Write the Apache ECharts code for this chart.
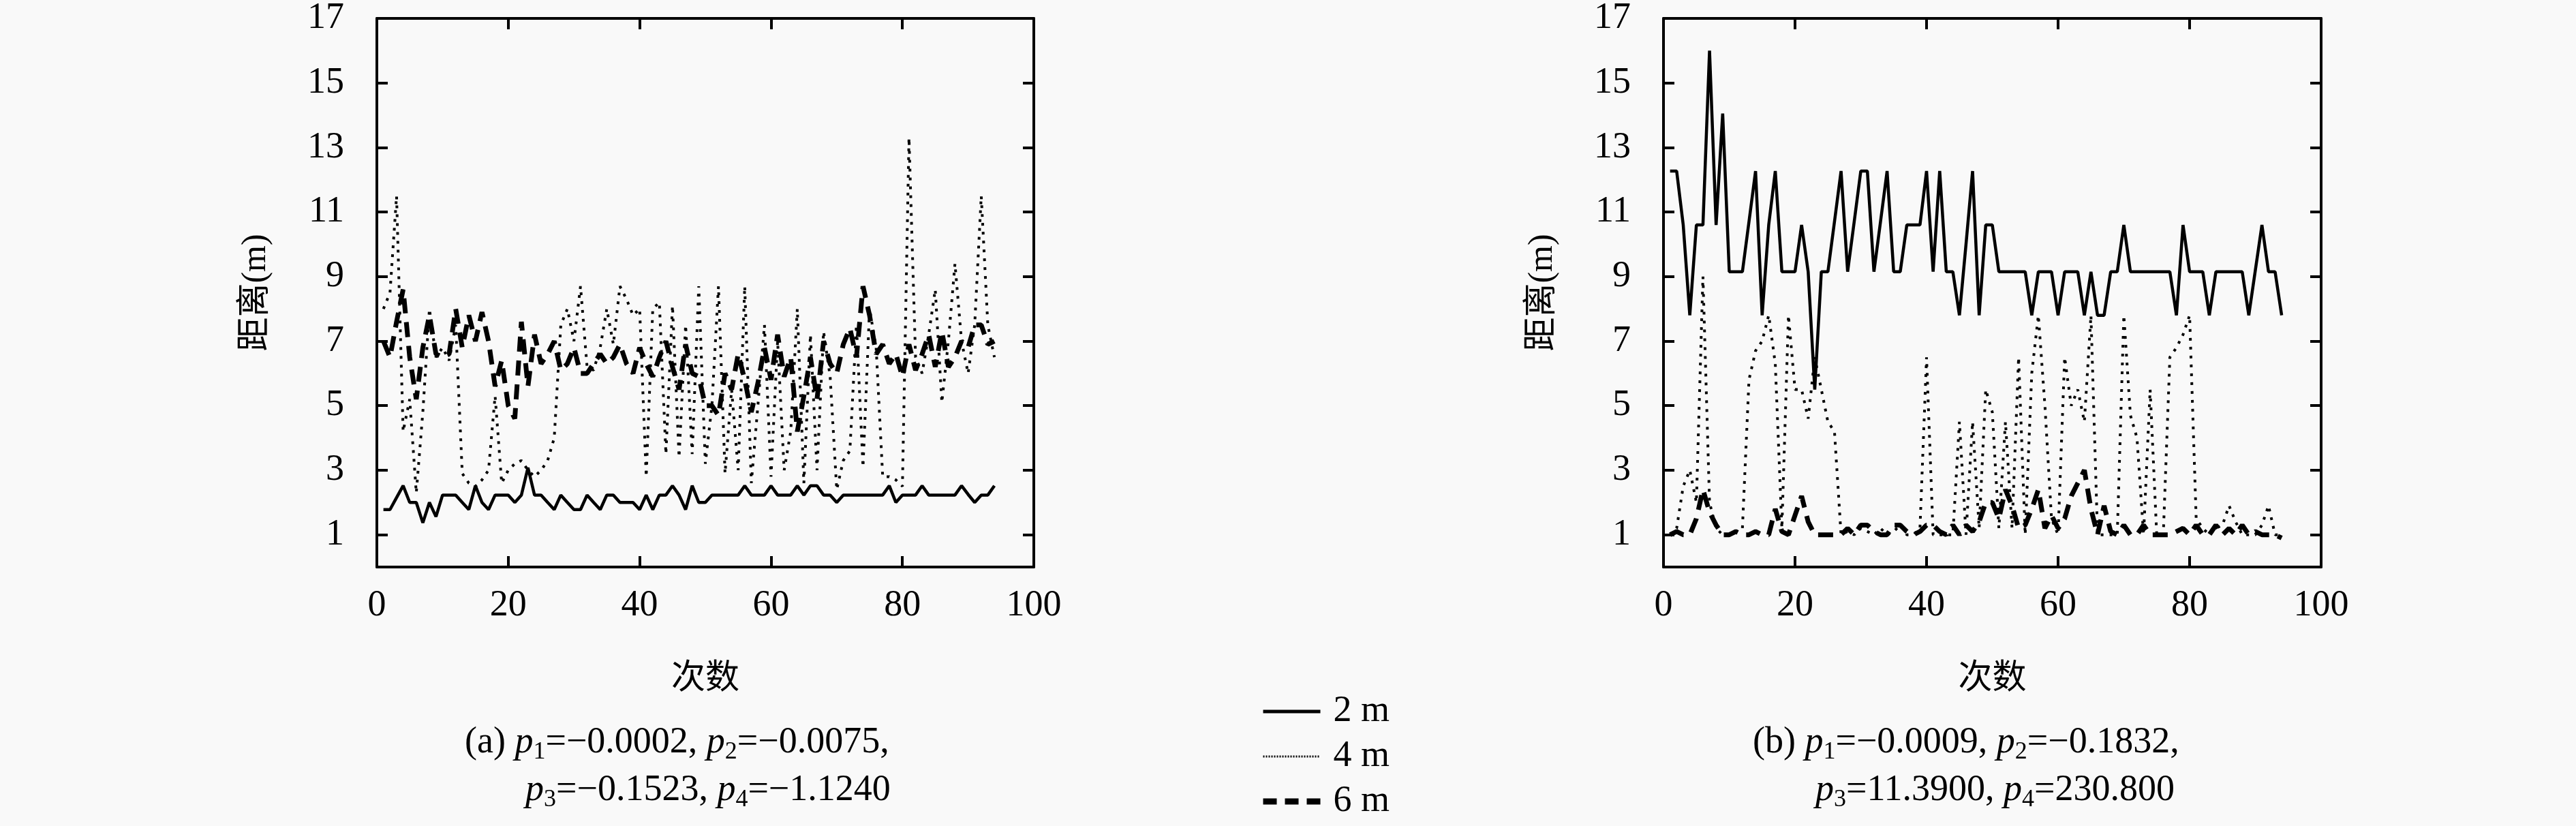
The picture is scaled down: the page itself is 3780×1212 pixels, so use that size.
<!DOCTYPE html>
<html>
<head>
<meta charset="utf-8">
<script src="https://cdn.jsdelivr.net/npm/echarts@6/dist/echarts.min.js"></script>
<style>
html,body{margin:0;padding:0;background:#f9f9f9;}
#c{width:3780px;height:1212px;}
</style>
</head>
<body>
<div id="c"></div>
<script>
// ---- data (run index 1..94) ----
const legendNames = ['2 m', '4 m', '6 m'];
const xTicks = [0, 20, 40, 60, 80, 100];
const yTicks = [1, 3, 5, 7, 9, 11, 13, 15, 17];

// panel (a)
const a2m = [1.78,1.78,2.15,2.52,2.0,2.0,1.37,2.0,1.56,2.23,2.23,2.23,2.0,1.78,2.52,2.0,1.78,2.23,2.23,2.23,
  2.0,2.23,3.08,2.23,2.23,2.0,1.78,2.23,2.0,1.78,1.78,2.23,2.0,1.78,2.23,2.23,2.0,2.0,2.0,1.78,
  2.23,1.78,2.23,2.23,2.52,2.23,1.78,2.52,2.0,2.0,2.23,2.23,2.23,2.23,2.23,2.52,2.23,2.23,2.23,2.52,
  2.23,2.23,2.23,2.52,2.23,2.52,2.52,2.23,2.23,2.0,2.23,2.23,2.23,2.23,2.23,2.23,2.23,2.52,2.0,2.23,
  2.23,2.23,2.52,2.23,2.23,2.23,2.23,2.23,2.52,2.25,2.0,2.23,2.23,2.52];
const a4m = [8.0,8.5,11.5,4.2,5.2,2.3,4.8,8.0,6.5,6.8,6.4,7.5,2.9,2.6,2.5,2.7,3.0,5.3,2.6,3.0,
  3.2,3.3,3.0,2.8,3.0,3.3,4.0,7.5,8.0,7.0,8.7,6.2,6.1,6.8,8.0,6.9,8.7,8.3,7.8,8.0,
  2.8,8.0,8.2,3.5,8.1,3.4,7.5,3.5,8.7,3.2,5.0,8.7,2.9,5.5,3.0,8.7,2.6,5.0,7.5,2.8,
  7.0,3.0,4.2,8.0,2.6,7.2,3.0,7.3,5.9,2.4,3.3,3.6,7.5,3.1,8.0,6.8,2.8,2.8,2.7,2.5,
  13.3,6.5,6.0,7.2,8.6,5.1,7.0,9.4,7.0,6.0,7.5,11.5,7.5,6.5];
const a6m = [7.0,6.5,7.6,8.6,6.5,5.2,6.8,7.8,6.6,6.5,6.6,8.0,6.8,7.8,7.0,7.9,7.0,5.6,6.4,5.0,
  4.6,7.6,5.6,7.2,6.3,6.6,7.0,6.1,6.3,6.8,6.0,6.0,6.3,6.6,6.3,6.5,6.9,6.3,6.0,6.8,
  6.3,5.9,6.5,7.0,6.2,5.5,6.9,6.0,5.9,5.0,5.0,4.7,6.0,5.5,6.6,5.8,4.8,5.7,6.8,5.8,
  7.2,5.9,6.5,4.2,5.3,6.5,5.2,7.0,6.3,6.0,6.9,7.4,6.5,8.7,7.8,6.6,6.9,6.3,6.6,5.9,
  6.9,6.1,6.6,7.2,6.2,7.3,6.2,6.5,7.0,6.8,7.5,7.5,6.9,7.0];

// panel (b)
const b2m = [12.27,12.27,10.6,7.8,10.6,10.6,16.0,10.6,14.05,9.15,9.15,9.15,10.7,12.27,7.8,10.6,12.27,9.15,9.15,9.15,
  10.6,9.15,5.5,9.15,9.15,10.7,12.27,9.15,10.7,12.27,12.27,9.15,10.7,12.27,9.15,9.15,10.6,10.6,10.6,12.27,
  9.15,12.27,9.15,9.15,7.8,10.0,12.27,7.8,10.6,10.6,9.15,9.15,9.15,9.15,9.15,7.8,9.15,9.15,9.15,7.8,
  9.15,9.15,9.15,7.8,9.15,7.8,7.8,9.15,9.15,10.6,9.15,9.15,9.15,9.15,9.15,9.15,9.15,7.8,10.6,9.15,
  9.15,9.15,7.8,9.15,9.15,9.15,9.15,9.15,7.8,9.2,10.6,9.15,9.15,7.8];
const b4m = [1.0,1.2,2.5,3.0,2.0,9.0,2.0,1.2,1.0,1.0,1.1,1.2,5.8,6.7,7.0,7.8,6.3,1.2,7.8,5.5,
  5.5,4.6,6.5,5.5,4.5,4.2,1.0,1.1,1.0,1.2,1.1,1.0,1.2,1.0,1.1,1.3,1.0,1.0,1.2,6.5,
  1.0,1.0,1.0,1.0,4.5,1.0,4.5,1.2,5.5,4.8,1.2,4.5,1.2,6.5,1.0,6.0,7.8,5.0,1.5,1.0,
  6.5,5.0,5.5,4.5,7.8,1.0,1.0,1.0,1.0,7.8,4.7,4.0,1.0,5.5,1.0,1.0,6.5,6.8,7.2,7.8,
  1.5,1.2,1.0,1.2,1.3,1.9,1.4,1.0,1.0,1.0,1.3,1.9,1.0,1.0];
const b6m = [1.0,1.1,1.0,1.0,1.5,2.4,1.7,1.3,1.0,1.0,1.1,1.0,1.0,1.1,1.0,1.0,1.8,1.1,1.0,1.6,
  2.2,1.4,1.0,1.0,1.0,1.0,1.0,1.2,1.0,1.3,1.3,1.1,1.0,1.0,1.3,1.3,1.1,1.0,1.1,1.3,
  1.3,1.1,1.0,1.3,1.0,1.3,1.1,1.4,2.0,2.0,1.5,2.4,1.9,1.2,1.3,1.8,2.4,1.2,1.6,1.2,
  1.5,2.2,2.6,3.0,1.8,1.0,1.9,1.1,1.0,1.3,1.0,1.0,1.3,1.0,1.0,1.0,1.0,1.1,1.2,1.0,
  1.3,1.0,1.0,1.3,1.0,1.2,1.0,1.3,1.0,1.1,1.0,1.0,1.0,0.9];

const xName = '次数';
const yName = '距离(m)';
const capA1 = '(a) {i|p}{s|1}=−0.0002, {i|p}{s|2}=−0.0075,';
const capA2 = '{i|p}{s|3}=−0.1523, {i|p}{s|4}=−1.1240';
const capB1 = '(b) {i|p}{s|1}=−0.0009, {i|p}{s|2}=−0.1832,';
const capB2 = '{i|p}{s|3}=11.3900, {i|p}{s|4}=230.800';

// ---- chart ----
const FONT = "'Liberation Serif', 'DejaVu Serif', 'Noto Sans CJK SC', serif";
const FS = 54;
const toXY = arr => arr.map((v, i) => [i + 1, v]);

const grids = [
  {left: 553, top: 27, width: 964, height: 805},
  {left: 2441, top: 27, width: 965, height: 805}
];

const xAxes = [], yAxes = [];
grids.forEach((g, gi) => {
  xAxes.push({
    type: 'value', gridIndex: gi, min: 0, max: 100, interval: 20, position: 'bottom',
    name: xName, nameLocation: 'middle', nameGap: 140,
    nameTextStyle: {fontFamily: FONT, fontSize: 50, color: '#000'},
    axisLine: {show: true, onZero: false, lineStyle: {color: '#000', width: 4}},
    axisTick: {show: true, inside: true, length: 16, lineStyle: {color: '#000', width: 4}},
    axisLabel: {show: true, margin: 30, fontFamily: FONT, fontSize: FS, color: '#000'},
    splitLine: {show: false}
  });
  xAxes.push({
    type: 'value', gridIndex: gi, min: 0, max: 100, interval: 20, position: 'top',
    axisLine: {show: true, onZero: false, lineStyle: {color: '#000', width: 4}},
    axisTick: {show: true, inside: true, length: 16, lineStyle: {color: '#000', width: 4}},
    axisLabel: {show: false}, splitLine: {show: false}
  });
  yAxes.push({
    type: 'value', gridIndex: gi, min: 0, max: 17, position: 'left',
    name: yName, nameLocation: 'middle', nameGap: 152, nameRotate: 90,
    nameTextStyle: {fontFamily: FONT, fontSize: 50, color: '#000'},
    axisLine: {show: true, onZero: false, lineStyle: {color: '#000', width: 4}},
    axisTick: {show: true, inside: true, length: 16, customValues: yTicks, lineStyle: {color: '#000', width: 4}},
    axisLabel: {show: true, margin: 48, customValues: yTicks, fontFamily: FONT, fontSize: FS, color: '#000'},
    splitLine: {show: false}
  });
  yAxes.push({
    type: 'value', gridIndex: gi, min: 0, max: 17, position: 'right',
    axisLine: {show: true, onZero: false, lineStyle: {color: '#000', width: 4}},
    axisTick: {show: true, inside: true, length: 16, customValues: yTicks, lineStyle: {color: '#000', width: 4}},
    axisLabel: {show: false, customValues: yTicks}, splitLine: {show: false}
  });
});

const styles = {
  '2 m': {type: 'solid', width: 4.5},
  '4 m': {type: [4, 9], width: 4},
  '6 m': {type: [22, 13], width: 7}
};
const legendStyles = {
  '2 m': {type: 'solid', width: 5},
  '4 m': {type: [2, 2], width: 3},
  '6 m': {type: [20, 12], width: 9}
};
function mk(name, arr, gi) {
  return {
    type: 'line', name: name, data: toXY(arr), xAxisIndex: gi * 2, yAxisIndex: gi * 2,
    symbol: 'none', showSymbol: false, animation: false, z: name === '2 m' ? 4 : 3,
    color: '#000',
    itemStyle: {color: '#000'},
    lineStyle: Object.assign({color: '#000'}, styles[name])
  };
}
const series = [
  mk('2 m', a2m, 0), mk('4 m', a4m, 0), mk('6 m', a6m, 0),
  mk('2 m', b2m, 1), mk('4 m', b4m, 1), mk('6 m', b6m, 1)
];

const richSty = {
  i: {fontFamily: FONT, fontSize: FS, fontStyle: 'italic', lineHeight: 64},
  s: {fontFamily: FONT, fontSize: 36, verticalAlign: 'bottom', lineHeight: 64}
};
function cap(text, x, y) {
  return {
    type: 'text', left: x, top: y,
    style: {text: text, fontFamily: FONT, fontSize: FS, fill: '#000', lineHeight: 64, rich: richSty}
  };
}

const option = {
  backgroundColor: '#f9f9f9',
  animation: false,
  color: ['#000', '#000', '#000'],
  grid: grids.map(g => Object.assign({containLabel: false}, g)),
  xAxis: xAxes,
  yAxis: yAxes,
  series: series,
  legend: {
    data: legendNames.map(n => ({name: n, lineStyle: Object.assign({color: '#000'}, legendStyles[n])})),
    orient: 'vertical', left: 1844, top: 1012,
    itemWidth: 84, itemHeight: 24, itemGap: 12,
    itemStyle: {opacity: 0},
    textStyle: {fontFamily: FONT, fontSize: FS, color: '#000', lineHeight: 54, padding: [0, 0, 0, 14]},
    selectedMode: false
  },
  graphic: [
    cap(capA1, 682, 1058),
    cap(capA2, 771, 1128),
    cap(capB1, 2572, 1058),
    cap(capB2, 2664, 1128)
  ]
};

const chart = echarts.init(document.getElementById('c'), null, {renderer: 'canvas'});
chart.setOption(option);
</script>
</body>
</html>
